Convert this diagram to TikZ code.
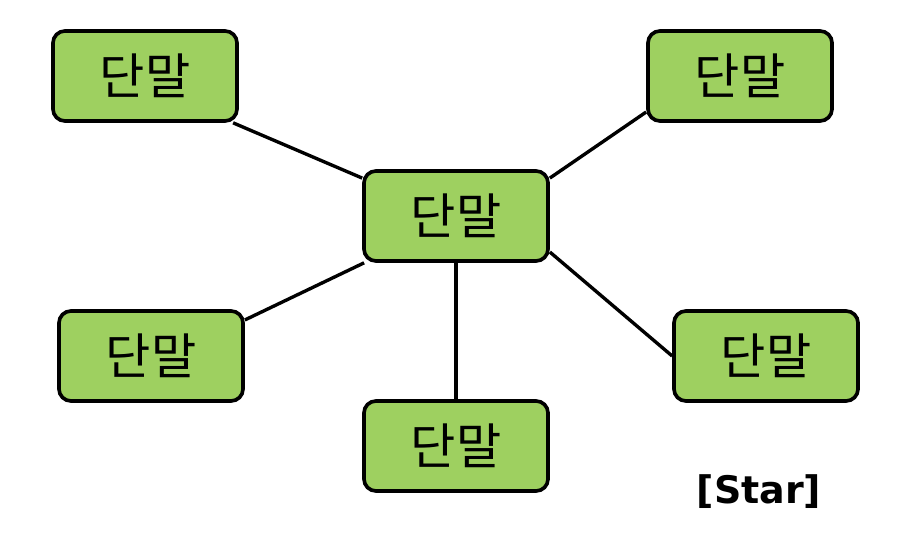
\documentclass[tikz,border=0pt]{standalone}
\usepackage{fontspec}
\newfontfamily\kofont{Noto Sans CJK KR}
\newfontfamily\labelfont{DejaVu Sans}
\usepackage{tikz}
\usetikzlibrary{positioning}
\definecolor{termgreen}{HTML}{9ED060}
\tikzset{
x=0.025cm, y=0.025cm,
every term/.style={draw, line width=2.6pt, fill=termgreen, rounded corners=0.3cm, minimum width=4.6cm, minimum height=2.25cm, font=\kofont\fontsize{35}{38}\selectfont}, % terminal boxes
link/.style={line width=2.4pt, -}, % plain cables between terminals
}

\begin{document}
\begin{tikzpicture}
\useasboundingbox (0,0) rectangle (924,558);
\node[every term] (hub) at (456,342) {단말};
\node[every term] (tl) at (145,482) {단말};
\node[every term] (tr) at (740,482) {단말};
\node[every term] (lt) at (151,202) {단말};
\node[every term] (rt) at (766,202) {단말};
\node[every term] (bt) at (456,112) {단말};
\node[font=\labelfont\bfseries\fontsize{27}{30}\selectfont] (caption) at (759,66) {[Star]};
\draw[link]
(hub.158) edge (tl.332)
(hub.22) edge (tr.201)
(hub.207) edge (lt.21)
(hub.south) edge (bt.north)
(hub.339) edge (rt.180)
;
\end{tikzpicture}
\end{document}
